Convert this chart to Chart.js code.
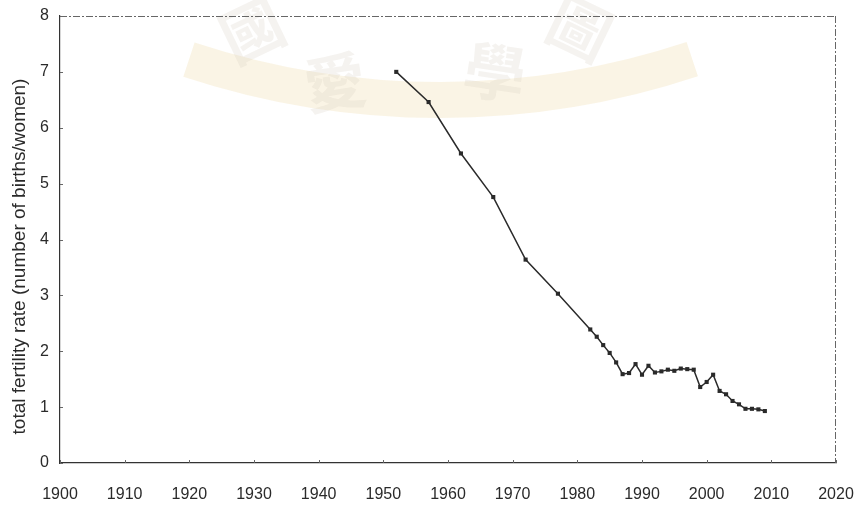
<!DOCTYPE html>
<html>
<head>
<meta charset="utf-8">
<script src="https://cdn.jsdelivr.net/npm/chart.js@4.4.1/dist/chart.umd.min.js"></script>
<style>
  html, body { margin: 0; padding: 0; background: #fff; }
  #wrap { width: 859px; height: 510px; position: relative; }
</style>
</head>
<body>
<div id="wrap"><canvas id="tfr"></canvas></div>
<script>
// years (5-year steps first, then yearly)
const years = [1952, 1957, 1962, 1967, 1972, 1977,
  1982, 1983, 1984, 1985, 1986, 1987, 1988, 1989, 1990, 1991,
  1992, 1993, 1994, 1995, 1996, 1997, 1998, 1999, 2000, 2001,
  2002, 2003, 2004, 2005, 2006, 2007, 2008, 2009];
const tfr = [7.00, 6.46, 5.54, 4.76, 3.64, 3.03,
  2.39, 2.26, 2.11, 1.97, 1.80, 1.59, 1.61, 1.77, 1.58, 1.74,
  1.62, 1.64, 1.67, 1.65, 1.69, 1.68, 1.67, 1.36, 1.45, 1.58,
  1.29, 1.23, 1.11, 1.05, 0.97, 0.97, 0.96, 0.93];
const xMin = 1900, xMax = 2020, xStep = 10;
const yMin = 0, yMax = 8, yStep = 1;
const yTitle = "total fertility rate (number of births/women)";
const markChars = ["國", "愛", "學", "圖"];

const ink = "#2a2a2a";
const FONT = "'Liberation Sans', Arial, sans-serif";

// faint library watermark that shows through the scan
const watermark = {
  id: "watermark",
  beforeDatasetsDraw(chart) {
    const { ctx } = chart;
    ctx.save();
    ctx.strokeStyle = "rgba(238, 216, 160, 0.28)";
    ctx.lineWidth = 36;
    ctx.beginPath();
    ctx.arc(440, -700, 800, 1.25, 1.89);
    ctx.stroke();
    ctx.fillStyle = "rgba(205, 195, 180, 0.2)";
    ctx.font = "bold 62px 'Noto Sans CJK TC', sans-serif";
    ctx.textAlign = "center";
    ctx.textBaseline = "middle";
    const spots = [[252, 30, -0.45], [335, 82, -0.15], [495, 72, 0.15], [580, 28, 0.45]];
    spots.forEach(([px, py, rot], i) => {
      ctx.save();
      ctx.translate(px, py);
      ctx.rotate(rot);
      ctx.fillText(markChars[i], 0, 0);
      ctx.restore();
    });
    ctx.restore();
  }
};

// top / right frame (dashed in the scan), small inward ticks, y title
const framePlugin = {
  id: "frame",
  afterDraw(chart) {
    const { ctx, chartArea: a, scales: { x, y } } = chart;
    ctx.save();
    ctx.strokeStyle = "#666";
    ctx.lineWidth = 1;
    ctx.setLineDash([7, 2, 2, 2]);
    ctx.beginPath();
    ctx.moveTo(a.left, a.top + 0.5); ctx.lineTo(a.right, a.top + 0.5);
    ctx.moveTo(a.right - 0.5, a.top); ctx.lineTo(a.right - 0.5, a.bottom);
    ctx.stroke();
    ctx.setLineDash([]);
    ctx.beginPath();
    x.ticks.forEach(t => {
      const px = Math.round(x.getPixelForValue(t.value)) + 0.5;
      ctx.moveTo(px, a.bottom); ctx.lineTo(px, a.bottom - 3);
    });
    y.ticks.forEach(t => {
      const py = Math.round(y.getPixelForValue(t.value)) + 0.5;
      ctx.moveTo(a.left, py); ctx.lineTo(a.left + 3, py);
    });
    ctx.stroke();
    ctx.fillStyle = ink;
    ctx.font = "19px " + FONT;
    ctx.textAlign = "center";
    ctx.textBaseline = "middle";
    ctx.translate(20, (a.top + a.bottom) / 2 + 17);
    ctx.rotate(-Math.PI / 2);
    ctx.fillText(yTitle, 0, 0);
    ctx.restore();
  }
};

new Chart(document.getElementById("tfr"), {
  type: "line",
  data: {
    datasets: [{
      data: years.map((yr, i) => ({ x: yr, y: tfr[i] })),
      borderColor: ink,
      borderWidth: 1.5,
      backgroundColor: ink,
      pointStyle: "rect",
      pointRadius: 2.9,
      pointBorderWidth: 0,
      tension: 0
    }]
  },
  options: {
    responsive: true,
    maintainAspectRatio: false,
    animation: false,
    layout: { padding: { top: 16, right: 23, left: 0, bottom: 0 } },
    plugins: { legend: { display: false }, tooltip: { enabled: false } },
    scales: {
      x: {
        type: "linear", min: xMin, max: xMax,
        afterFit(s) { s.height = 47; s.paddingLeft = 0; s.paddingRight = 0; },
        grid: { display: false, drawTicks: false },
        border: { display: true, color: "#333", width: 1.2 },
        ticks: {
          stepSize: xStep, padding: 22, color: ink, maxRotation: 0,
          font: { family: FONT, size: 16 },
          callback: v => String(v)
        }
      },
      y: {
        min: yMin, max: yMax,
        afterFit(s) { s.width = 60; s.paddingTop = 0; s.paddingBottom = 0; },
        grid: { display: false, drawTicks: false },
        border: { display: true, color: "#333", width: 1.2 },
        ticks: {
          stepSize: yStep, padding: 11, color: ink,
          font: { family: FONT, size: 16 }
        }
      }
    }
  },
  plugins: [watermark, framePlugin]
});
</script>
</body>
</html>
